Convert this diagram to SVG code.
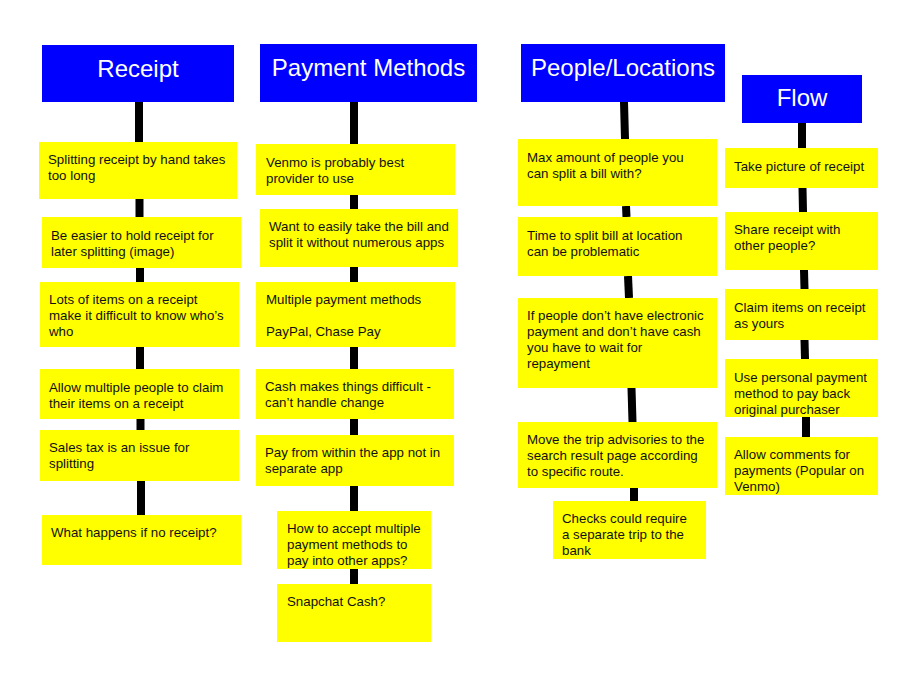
<svg xmlns="http://www.w3.org/2000/svg" width="921" height="684" viewBox="0 0 921 684">
<style>
.hdr{fill:#0000ff}
.hdrt{fill:#ffffff;font-family:"Liberation Sans",Arial,sans-serif;font-size:24px;text-anchor:middle}
.note{fill:#ffff00}
.nt{fill:#111111;font-family:"Liberation Sans",Arial,sans-serif;font-size:13.3px}
.con{stroke:#000000;stroke-width:8;fill:none}
</style>
<rect width="921" height="684" fill="#ffffff"/>
<g id="connectors">
<line class="con" x1="139" y1="102" x2="139" y2="142"/>
<line class="con" x1="139.5" y1="199" x2="139.5" y2="217"/>
<line class="con" x1="140" y1="268" x2="140" y2="282"/>
<line class="con" x1="140" y1="347" x2="140" y2="369"/>
<line class="con" x1="140.5" y1="419" x2="140.5" y2="430"/>
<line class="con" x1="141" y1="481" x2="141" y2="515"/>
<line class="con" x1="354" y1="102" x2="354" y2="144"/>
<line class="con" x1="354" y1="195" x2="354" y2="209"/>
<line class="con" x1="354" y1="267" x2="354" y2="282"/>
<line class="con" x1="354" y1="347" x2="354" y2="369"/>
<line class="con" x1="354" y1="419" x2="354" y2="435"/>
<line class="con" x1="354" y1="486" x2="354" y2="511"/>
<line class="con" x1="354" y1="569" x2="354" y2="584"/>
<line class="con" x1="624" y1="102" x2="625" y2="139"/>
<line class="con" x1="626" y1="206" x2="626.5" y2="217"/>
<line class="con" x1="628" y1="276" x2="629" y2="298"/>
<line class="con" x1="631.5" y1="388" x2="632.5" y2="422"/>
<line class="con" x1="634" y1="488" x2="634" y2="501"/>
<line class="con" x1="802" y1="123" x2="802" y2="148"/>
<line class="con" x1="802.5" y1="188" x2="803" y2="212"/>
<line class="con" x1="804" y1="270" x2="804.5" y2="289"/>
<line class="con" x1="804.5" y1="340" x2="805" y2="359"/>
<line class="con" x1="806" y1="417" x2="806" y2="437"/>
</g>
<g id="receipt">
<rect class="hdr" x="42" y="45" width="192" height="57"/>
<text class="hdrt" x="138" y="77">Receipt</text>
</g>
<g id="r1"><rect class="note" x="39" y="142" width="198" height="57"/>
<text class="nt" x="48" y="164">Splitting receipt by hand takes</text><text class="nt" x="48" y="180">too long</text></g>
<g id="r2"><rect class="note" x="42" y="217" width="199" height="51"/>
<text class="nt" x="51" y="240">Be easier to hold receipt for</text><text class="nt" x="51" y="256">later splitting (image)</text></g>
<g id="r3"><rect class="note" x="40" y="282" width="199" height="65"/>
<text class="nt" x="49" y="304">Lots of items on a receipt</text><text class="nt" x="49" y="320">make it difficult to know who’s</text><text class="nt" x="49" y="336">who</text></g>
<g id="r4"><rect class="note" x="40" y="369" width="199" height="50"/>
<text class="nt" x="49" y="392">Allow multiple people to claim</text><text class="nt" x="49" y="408">their items on a receipt</text></g>
<g id="r5"><rect class="note" x="40" y="430" width="199" height="51"/>
<text class="nt" x="49" y="452">Sales tax is an issue for</text><text class="nt" x="49" y="468">splitting</text></g>
<g id="r6"><rect class="note" x="42" y="515" width="199" height="50"/>
<text class="nt" x="51" y="537">What happens if no receipt?</text></g>
<g id="payment">
<rect class="hdr" x="260" y="44" width="217" height="58"/>
<text class="hdrt" x="368.5" y="76">Payment Methods</text>
</g>
<g id="p1"><rect class="note" x="256" y="144" width="199" height="51"/>
<text class="nt" x="266" y="167">Venmo is probably best</text><text class="nt" x="266" y="183">provider to use</text></g>
<g id="p2"><rect class="note" x="260" y="209" width="198" height="58"/>
<text class="nt" x="269" y="231">Want to easily take the bill and</text><text class="nt" x="269" y="247">split it without numerous apps</text></g>
<g id="p3"><rect class="note" x="256" y="282" width="199" height="65"/>
<text class="nt" x="266" y="304">Multiple payment methods</text><text class="nt" x="266" y="336">PayPal, Chase Pay</text></g>
<g id="p4"><rect class="note" x="256" y="369" width="198" height="50"/>
<text class="nt" x="265" y="391">Cash makes things difficult -</text><text class="nt" x="265" y="407">can’t handle change</text></g>
<g id="p5"><rect class="note" x="256" y="435" width="198" height="51"/>
<text class="nt" x="265" y="457">Pay from within the app not in</text><text class="nt" x="265" y="473">separate app</text></g>
<g id="p6"><rect class="note" x="277" y="511" width="154" height="58"/>
<text class="nt" x="287" y="533">How to accept multiple</text><text class="nt" x="287" y="549">payment methods to</text><text class="nt" x="287" y="565">pay into other apps?</text></g>
<g id="p7"><rect class="note" x="277" y="584" width="154" height="58"/>
<text class="nt" x="287" y="606">Snapchat Cash?</text></g>
<g id="people">
<rect class="hdr" x="521" y="44" width="204" height="58"/>
<text class="hdrt" x="623" y="76">People/Locations</text>
</g>
<g id="l1"><rect class="note" x="518" y="139" width="199" height="67"/>
<text class="nt" x="527" y="162">Max amount of people you</text><text class="nt" x="527" y="178">can split a bill with?</text></g>
<g id="l2"><rect class="note" x="518" y="217" width="199" height="59"/>
<text class="nt" x="527" y="240">Time to split bill at location</text><text class="nt" x="527" y="256">can be problematic</text></g>
<g id="l3"><rect class="note" x="518" y="298" width="199" height="90"/>
<text class="nt" x="527" y="320">If people don’t have electronic</text><text class="nt" x="527" y="336">payment and don’t have cash</text><text class="nt" x="527" y="352">you have to wait for</text><text class="nt" x="527" y="368">repayment</text></g>
<g id="l4"><rect class="note" x="518" y="422" width="199" height="66"/>
<text class="nt" x="527" y="444">Move the trip advisories to the</text><text class="nt" x="527" y="460">search result page according</text><text class="nt" x="527" y="476">to specific route.</text></g>
<g id="l5"><rect class="note" x="553" y="501" width="153" height="58"/>
<text class="nt" x="562" y="523">Checks could require</text><text class="nt" x="562" y="539">a separate trip to the</text><text class="nt" x="562" y="555">bank</text></g>
<g id="flow">
<rect class="hdr" x="742" y="75" width="120" height="48"/>
<text class="hdrt" x="802" y="106">Flow</text>
</g>
<g id="f1"><rect class="note" x="725" y="148" width="153" height="40"/>
<text class="nt" x="734" y="171">Take picture of receipt</text></g>
<g id="f2"><rect class="note" x="725" y="212" width="153" height="58"/>
<text class="nt" x="734" y="234">Share receipt with</text><text class="nt" x="734" y="250">other people?</text></g>
<g id="f3"><rect class="note" x="725" y="289" width="153" height="51"/>
<text class="nt" x="734" y="312">Claim items on receipt</text><text class="nt" x="734" y="328">as yours</text></g>
<g id="f4"><rect class="note" x="725" y="359" width="153" height="58"/>
<text class="nt" x="734" y="382">Use personal payment</text><text class="nt" x="734" y="398">method to pay back</text><text class="nt" x="734" y="414">original purchaser</text></g>
<g id="f5"><rect class="note" x="725" y="437" width="153" height="58"/>
<text class="nt" x="734" y="459">Allow comments for</text><text class="nt" x="734" y="475">payments (Popular on</text><text class="nt" x="734" y="491">Venmo)</text></g>
</svg>
